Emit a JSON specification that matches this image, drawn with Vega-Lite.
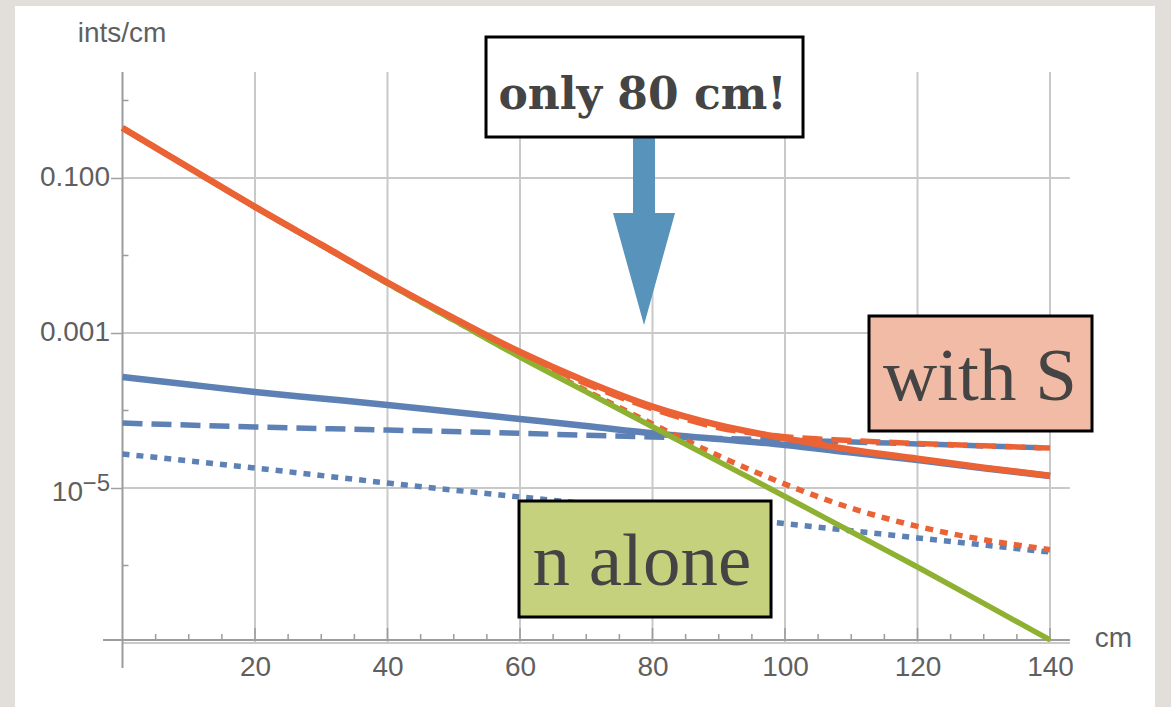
{
  "$schema": "https://vega.github.io/schema/vega-lite/v6.json",
  "width": 1140,
  "height": 701,
  "autosize": {"type": "none"},
  "padding": {"left": 15, "top": 6, "right": 16, "bottom": 0},
  "background": "#e2dfda",
  "config": {
    "view": {"fill": "white", "stroke": null},
    "axis": {"labelFont": "Liberation Sans", "titleFont": "Liberation Sans"}
  },
  "datasets": {
    "curves": [
      {"s": "green", "x": 0, "y": 0.4416}, {"s": "green", "x": 10, "y": 0.1365}, {"s": "green", "x": 20, "y": 0.04227},
      {"s": "green", "x": 30, "y": 0.01365}, {"s": "green", "x": 40, "y": 0.004365}, {"s": "green", "x": 50, "y": 0.001462},
      {"s": "green", "x": 60, "y": 4.898e-4}, {"s": "green", "x": 70, "y": 1.738e-4}, {"s": "green", "x": 80, "y": 6.166e-5},
      {"s": "green", "x": 90, "y": 2.188e-5}, {"s": "green", "x": 100, "y": 7.762e-6}, {"s": "green", "x": 110, "y": 2.723e-6},
      {"s": "green", "x": 120, "y": 9.55e-7}, {"s": "green", "x": 130, "y": 3.236e-7}, {"s": "green", "x": 140, "y": 1.096e-7},

      {"s": "red", "x": 0, "y": 0.442}, {"s": "red", "x": 10, "y": 0.1367}, {"s": "red", "x": 20, "y": 0.0424},
      {"s": "red", "x": 30, "y": 0.01379}, {"s": "red", "x": 40, "y": 0.004487}, {"s": "red", "x": 50, "y": 0.001557},
      {"s": "red", "x": 60, "y": 5.68e-4}, {"s": "red", "x": 70, "y": 2.37e-4}, {"s": "red", "x": 80, "y": 1.124e-4},
      {"s": "red", "x": 90, "y": 6.46e-5}, {"s": "red", "x": 100, "y": 4.37e-5}, {"s": "red", "x": 110, "y": 3.12e-5},
      {"s": "red", "x": 120, "y": 2.39e-5}, {"s": "red", "x": 130, "y": 1.83e-5}, {"s": "red", "x": 140, "y": 1.44e-5},

      {"s": "redDashed", "x": 0, "y": 0.4417}, {"s": "redDashed", "x": 10, "y": 0.1366}, {"s": "redDashed", "x": 20, "y": 0.04233},
      {"s": "redDashed", "x": 30, "y": 0.01371}, {"s": "redDashed", "x": 40, "y": 0.00442}, {"s": "redDashed", "x": 50, "y": 0.001515},
      {"s": "redDashed", "x": 60, "y": 5.41e-4}, {"s": "redDashed", "x": 70, "y": 2.22e-4}, {"s": "redDashed", "x": 80, "y": 1.05e-4},
      {"s": "redDashed", "x": 90, "y": 6.0e-5}, {"s": "redDashed", "x": 100, "y": 4.6e-5}, {"s": "redDashed", "x": 110, "y": 4.1e-5},
      {"s": "redDashed", "x": 120, "y": 3.75e-5}, {"s": "redDashed", "x": 130, "y": 3.5e-5}, {"s": "redDashed", "x": 140, "y": 3.28e-5},

      {"s": "redDotted", "x": 0, "y": 0.4416}, {"s": "redDotted", "x": 10, "y": 0.1365}, {"s": "redDotted", "x": 20, "y": 0.04229},
      {"s": "redDotted", "x": 30, "y": 0.01366}, {"s": "redDotted", "x": 40, "y": 0.004377}, {"s": "redDotted", "x": 50, "y": 0.001466},
      {"s": "redDotted", "x": 60, "y": 4.97e-4}, {"s": "redDotted", "x": 70, "y": 1.8e-4}, {"s": "redDotted", "x": 80, "y": 6.69e-5},
      {"s": "redDotted", "x": 90, "y": 2.6e-5}, {"s": "redDotted", "x": 100, "y": 1.12e-5}, {"s": "redDotted", "x": 110, "y": 5.5e-6},
      {"s": "redDotted", "x": 120, "y": 3.2e-6}, {"s": "redDotted", "x": 130, "y": 2.15e-6}, {"s": "redDotted", "x": 140, "y": 1.6e-6},

      {"s": "blue", "x": 0, "y": 2.704e-4}, {"s": "blue", "x": 10, "y": 2.163e-4}, {"s": "blue", "x": 20, "y": 1.734e-4},
      {"s": "blue", "x": 30, "y": 1.429e-4}, {"s": "blue", "x": 40, "y": 1.178e-4}, {"s": "blue", "x": 50, "y": 9.55e-5},
      {"s": "blue", "x": 60, "y": 7.76e-5}, {"s": "blue", "x": 70, "y": 6.31e-5}, {"s": "blue", "x": 80, "y": 5.07e-5},
      {"s": "blue", "x": 90, "y": 4.27e-5}, {"s": "blue", "x": 100, "y": 3.59e-5}, {"s": "blue", "x": 110, "y": 2.86e-5},
      {"s": "blue", "x": 120, "y": 2.29e-5}, {"s": "blue", "x": 130, "y": 1.8e-5}, {"s": "blue", "x": 140, "y": 1.43e-5},

      {"s": "blueDashed", "x": 0, "y": 6.9e-5}, {"s": "blueDashed", "x": 20, "y": 6.12e-5}, {"s": "blueDashed", "x": 40, "y": 5.6e-5},
      {"s": "blueDashed", "x": 60, "y": 5.07e-5}, {"s": "blueDashed", "x": 80, "y": 4.55e-5}, {"s": "blueDashed", "x": 100, "y": 4.16e-5},
      {"s": "blueDashed", "x": 120, "y": 3.7e-5}, {"s": "blueDashed", "x": 140, "y": 3.28e-5},

      {"s": "blueDotted", "x": 0, "y": 2.75e-5}, {"s": "blueDotted", "x": 20, "y": 1.81e-5}, {"s": "blueDotted", "x": 40, "y": 1.16e-5},
      {"s": "blueDotted", "x": 60, "y": 7.66e-6}, {"s": "blueDotted", "x": 80, "y": 5.2e-6}, {"s": "blueDotted", "x": 100, "y": 3.47e-6},
      {"s": "blueDotted", "x": 120, "y": 2.27e-6}, {"s": "blueDotted", "x": 140, "y": 1.49e-6}
    ],
    "hgrid": [
      {"y": 0.1, "x": 0, "x2": 143}, {"y": 0.001, "x": 0, "x2": 143},
      {"y": 1e-5, "x": 0, "x2": 143}, {"y": 1e-7, "x": 0, "x2": 143}
    ],
    "vgrid": [
      {"x": 20, "y": 1e-7, "y2": 2.33}, {"x": 40, "y": 1e-7, "y2": 2.33}, {"x": 60, "y": 1e-7, "y2": 2.33},
      {"x": 80, "y": 1e-7, "y2": 2.33}, {"x": 100, "y": 1e-7, "y2": 2.33}, {"x": 120, "y": 1e-7, "y2": 2.33},
      {"x": 140, "y": 1e-7, "y2": 2.33}
    ],
    "axisLines": [
      {"x": 0, "x2": 0, "y": 4.75e-8, "y2": 2.33},
      {"x": -2.94, "x2": 143, "y": 1.094e-7, "y2": 1.094e-7}
    ],
    "xTicks": [
      {"x": 5, "y": 1.094e-7, "y2": 1.306e-7}, {"x": 10, "y": 1.094e-7, "y2": 1.306e-7}, {"x": 15, "y": 1.094e-7, "y2": 1.306e-7},
      {"x": 20, "y": 1.094e-7, "y2": 1.563e-7},
      {"x": 25, "y": 1.094e-7, "y2": 1.306e-7}, {"x": 30, "y": 1.094e-7, "y2": 1.306e-7}, {"x": 35, "y": 1.094e-7, "y2": 1.306e-7},
      {"x": 40, "y": 1.094e-7, "y2": 1.563e-7},
      {"x": 45, "y": 1.094e-7, "y2": 1.306e-7}, {"x": 50, "y": 1.094e-7, "y2": 1.306e-7}, {"x": 55, "y": 1.094e-7, "y2": 1.306e-7},
      {"x": 60, "y": 1.094e-7, "y2": 1.563e-7},
      {"x": 65, "y": 1.094e-7, "y2": 1.306e-7}, {"x": 70, "y": 1.094e-7, "y2": 1.306e-7}, {"x": 75, "y": 1.094e-7, "y2": 1.306e-7},
      {"x": 80, "y": 1.094e-7, "y2": 1.563e-7},
      {"x": 85, "y": 1.094e-7, "y2": 1.306e-7}, {"x": 90, "y": 1.094e-7, "y2": 1.306e-7}, {"x": 95, "y": 1.094e-7, "y2": 1.306e-7},
      {"x": 100, "y": 1.094e-7, "y2": 1.563e-7},
      {"x": 105, "y": 1.094e-7, "y2": 1.306e-7}, {"x": 110, "y": 1.094e-7, "y2": 1.306e-7}, {"x": 115, "y": 1.094e-7, "y2": 1.306e-7},
      {"x": 120, "y": 1.094e-7, "y2": 1.563e-7},
      {"x": 125, "y": 1.094e-7, "y2": 1.306e-7}, {"x": 130, "y": 1.094e-7, "y2": 1.306e-7}, {"x": 135, "y": 1.094e-7, "y2": 1.306e-7},
      {"x": 140, "y": 1.094e-7, "y2": 1.563e-7}
    ],
    "yTicks": [
      {"y": 1, "x": 0, "x2": 0.9}, {"y": 0.01, "x": 0, "x2": 0.9},
      {"y": 1e-4, "x": 0, "x2": 0.9}, {"y": 1e-6, "x": 0, "x2": 0.9}
    ]
  },
  "encoding": {
    "x": {
      "field": "x",
      "type": "quantitative",
      "scale": {"domain": [-16.226, 155.849], "nice": false, "zero": false},
      "axis": {
        "values": [20, 40, 60, 80, 100, 120, 140],
        "format": "d",
        "domain": false,
        "ticks": false,
        "grid": false,
        "offset": -67,
        "labelPadding": 13,
        "labelFontSize": 28,
        "labelColor": "#5f5f5f",
        "labelFlush": false,
        "labelOverlap": false,
        "title": "cm",
        "titleFontSize": 28,
        "titleFontWeight": "normal",
        "titleColor": "#5f5f5f",
        "titleAlign": "center",
        "titleBaseline": "middle",
        "titleX": 1098,
        "titleY": -1.4
      }
    },
    "y": {
      "field": "y",
      "type": "quantitative",
      "scale": {"type": "log", "domain": [1.493e-8, 16.57], "nice": false},
      "axis": {
        "values": [0.1, 0.001, 0.00001],
        "labelExpr": "datum.value < 0.0001 ? '' : format(datum.value, '.3f')",
        "domain": false,
        "ticks": true,
        "tickSize": 12,
        "tickColor": "#a0a0a0",
        "tickWidth": 1.5,
        "grid": false,
        "offset": -107.5,
        "labelPadding": 1,
        "labelFontSize": 28,
        "labelColor": "#5f5f5f",
        "labelFlush": false,
        "labelOverlap": false,
        "title": "ints/cm",
        "titleAngle": 0,
        "titleAlign": "center",
        "titleBaseline": "middle",
        "titleX": -1,
        "titleY": 27.6,
        "titleFontSize": 28,
        "titleFontWeight": "normal",
        "titleColor": "#5f5f5f"
      }
    }
  },
  "layer": [
    {
      "data": {"name": "hgrid"},
      "mark": {"type": "rule", "color": "#c9c9c9", "strokeWidth": 2},
      "encoding": {"x2": {"field": "x2"}}
    },
    {
      "data": {"name": "vgrid"},
      "mark": {"type": "rule", "color": "#c9c9c9", "strokeWidth": 2},
      "encoding": {"y2": {"field": "y2"}}
    },
    {
      "data": {"name": "axisLines"},
      "mark": {"type": "rule", "color": "#9c9c9c", "strokeWidth": 2},
      "encoding": {"x2": {"field": "x2"}, "y2": {"field": "y2"}}
    },
    {
      "data": {"name": "xTicks"},
      "mark": {"type": "rule", "color": "#9c9c9c", "strokeWidth": 1.5},
      "encoding": {"y2": {"field": "y2"}}
    },
    {
      "data": {"name": "yTicks"},
      "mark": {"type": "rule", "color": "#9c9c9c", "strokeWidth": 1.5},
      "encoding": {"x2": {"field": "x2"}}
    },
    {
      "data": {"name": "curves"},
      "transform": [{"filter": "datum.s == 'blueDotted'"}],
      "mark": {"type": "line", "color": "#5E81B5", "strokeWidth": 5.5, "strokeDash": [7, 7], "interpolate": "monotone"}
    },
    {
      "data": {"name": "curves"},
      "transform": [{"filter": "datum.s == 'blueDashed'"}],
      "mark": {"type": "line", "color": "#5E81B5", "strokeWidth": 5.5, "strokeDash": [20, 9], "interpolate": "monotone"}
    },
    {
      "data": {"name": "curves"},
      "transform": [{"filter": "datum.s == 'blue'"}],
      "mark": {"type": "line", "color": "#5E81B5", "strokeWidth": 6.5, "interpolate": "monotone"}
    },
    {
      "data": {"name": "curves"},
      "transform": [{"filter": "datum.s == 'redDotted'"}],
      "mark": {"type": "line", "color": "#EB6235", "strokeWidth": 5.5, "strokeDash": [8, 7], "interpolate": "monotone"}
    },
    {
      "data": {"name": "curves"},
      "transform": [{"filter": "datum.s == 'redDashed'"}],
      "mark": {"type": "line", "color": "#EB6235", "strokeWidth": 5.5, "strokeDash": [20, 9], "interpolate": "monotone"}
    },
    {
      "data": {"name": "curves"},
      "transform": [{"filter": "datum.s == 'green'"}],
      "mark": {"type": "line", "color": "#8FB131", "strokeWidth": 5.5, "interpolate": "monotone"}
    },
    {
      "data": {"name": "curves"},
      "transform": [{"filter": "datum.s == 'red'"}],
      "mark": {"type": "line", "color": "#EB6235", "strokeWidth": 6.5, "interpolate": "monotone"}
    },
    {
      "data": {"values": [{"x": 78.72, "y": 0.0207}]},
      "mark": {
        "type": "point",
        "shape": "M-0.117,-1L0.117,-1L0.117,-0.191L0.33,-0.191L0,1L-0.33,-0.191L-0.117,-0.191Z",
        "size": 35344,
        "filled": true,
        "fill": "#5893bc",
        "opacity": 1,
        "strokeWidth": 0
      }
    },
    {
      "data": {"values": [{"x": 54.87, "x2": 102.72, "y": 6.597, "y2": 0.338}]},
      "mark": {"type": "rect", "fill": "white", "stroke": "black", "strokeWidth": 3},
      "encoding": {"x2": {"field": "x2"}, "y2": {"field": "y2"}}
    },
    {
      "data": {"values": [{"x": 112.68, "x2": 146.34, "y": 1.657e-3, "y2": 5.44e-5}]},
      "mark": {"type": "rect", "fill": "#f2bba6", "stroke": "black", "strokeWidth": 3},
      "encoding": {"x2": {"field": "x2"}, "y2": {"field": "y2"}}
    },
    {
      "data": {"values": [{"x": 59.85, "x2": 97.89, "y": 6.795e-6, "y2": 2.165e-7}]},
      "mark": {"type": "rect", "fill": "#c5d17d", "stroke": "black", "strokeWidth": 3},
      "encoding": {"x2": {"field": "x2"}, "y2": {"field": "y2"}}
    },
    {
      "data": {"values": [{"x": 78.49, "y": 0.7766, "t": "only 80 cm!"}]},
      "mark": {"type": "text", "font": "DejaVu Serif", "fontWeight": "bold", "fontSize": 44, "color": "#444444", "align": "center", "baseline": "alphabetic"},
      "encoding": {"text": {"field": "t"}}
    },
    {
      "data": {"values": [{"x": 129.43, "y": 1.365e-4, "t": "with S"}, {"x": 78.4, "y": 5.6e-7, "t": "n alone"}]},
      "mark": {"type": "text", "font": "Liberation Serif", "fontSize": 75, "color": "#444444", "align": "center", "baseline": "alphabetic"},
      "encoding": {"text": {"field": "t"}}
    },
    {
      "data": {"values": [{"x": 0, "y": 1e-5}]},
      "mark": {"type": "text", "text": "10", "font": "Liberation Sans", "fontSize": 28, "color": "#5f5f5f", "align": "right", "baseline": "middle", "dx": -39.5, "dy": 4.6}
    },
    {
      "data": {"values": [{"x": 0, "y": 1e-5}]},
      "mark": {"type": "text", "text": "−5", "font": "Liberation Sans", "fontSize": 24, "color": "#5f5f5f", "align": "right", "baseline": "middle", "dx": -12.5, "dy": -4}
    }
  ]
}
